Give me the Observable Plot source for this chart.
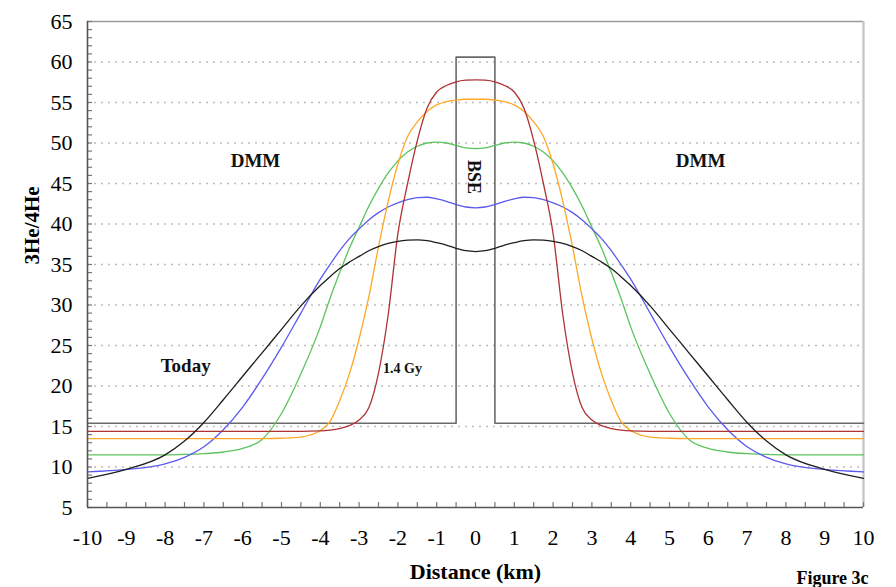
<!DOCTYPE html>
<html><head><meta charset="utf-8">
<script src="https://cdn.jsdelivr.net/npm/d3@7"></script>
<script src="https://cdn.jsdelivr.net/npm/@observablehq/plot@0.6"></script>
<style>html,body{margin:0;padding:0;background:#fff;}</style>
</head><body><div id="chart"></div>
<script>
// Distance (km)
const distance = [-10, -9, -8, -7.5, -7, -6.5, -6, -5.5, -5, -4.5, -4, -3.75, -3.5, -3.25, -3, -2.75, -2.5, -2.25, -2, -1.75, -1.5, -1.25, -1, -0.75, -0.5, -0.25, 0,
  0.25, 0.5, 0.75, 1, 1.25, 1.5, 1.75, 2, 2.25, 2.5, 2.75, 3, 3.25, 3.5, 3.75, 4, 4.5, 5, 5.5, 6, 6.5, 7, 7.5, 8, 9, 10];

// 3He/4He profiles
const today = [8.6, 9.7, 11.5, 13.2, 15.5, 18.3, 21.2, 24.1, 27.0, 29.9, 32.4, 33.5, 34.5, 35.3, 36.0, 36.7, 37.2, 37.6, 37.85, 38.0, 38.05, 37.95, 37.7, 37.4, 37.0, 36.7, 36.6,
  36.7, 37.0, 37.4, 37.7, 37.95, 38.05, 38.0, 37.85, 37.6, 37.2, 36.7, 36.0, 35.3, 34.5, 33.5, 32.4, 29.9, 27.0, 24.1, 21.2, 18.3, 15.5, 13.2, 11.5, 9.7, 8.6];
const blueProfile = [9.4, 9.7, 10.4, 11.2, 12.5, 14.6, 17.4, 20.9, 24.8, 29.0, 33.2, 35.0, 36.7, 38.2, 39.4, 40.5, 41.4, 42.1, 42.6, 43.0, 43.25, 43.3, 43.1, 42.8, 42.4, 42.1, 42.0,
  42.1, 42.4, 42.8, 43.1, 43.3, 43.25, 43.0, 42.6, 42.1, 41.4, 40.5, 39.4, 38.2, 36.7, 35.0, 33.2, 29.0, 24.8, 20.9, 17.4, 14.6, 12.5, 11.2, 10.4, 9.7, 9.4];
const greenProfile = [11.5, 11.5, 11.5, 11.55, 11.65, 11.85, 12.3, 13.4, 16.6, 21.5, 27.3, 30.8, 34.0, 37.0, 39.6, 42.2, 44.4, 46.3, 47.8, 48.9, 49.6, 50.0, 50.1, 50.0, 49.7, 49.4, 49.3,
  49.4, 49.7, 50.0, 50.1, 50.0, 49.6, 48.9, 47.8, 46.3, 44.4, 42.2, 39.6, 37.0, 34.0, 30.8, 27.3, 21.5, 16.6, 13.4, 12.3, 11.85, 11.65, 11.55, 11.5, 11.5, 11.5];
const orangeProfile = [13.5, 13.5, 13.5, 13.5, 13.5, 13.5, 13.5, 13.5, 13.55, 13.7, 14.5, 15.6, 18.2, 21.5, 25.8, 31.0, 37.2, 42.8, 47.4, 50.8, 52.6, 53.9, 54.7, 55.1, 55.3, 55.4, 55.4,
  55.4, 55.3, 55.1, 54.7, 53.9, 52.6, 50.8, 47.4, 42.8, 37.2, 31.0, 25.8, 21.5, 18.2, 15.6, 14.5, 13.7, 13.55, 13.5, 13.5, 13.5, 13.5, 13.5, 13.5, 13.5, 13.5];
const gy14 = [14.4, 14.4, 14.4, 14.4, 14.4, 14.4, 14.4, 14.4, 14.4, 14.4, 14.45, 14.55, 14.75, 15.1, 15.8, 17.3, 21.6, 28.8, 38.8, 45.0, 50.3, 54.3, 56.3, 57.1, 57.55, 57.75, 57.8,
  57.75, 57.55, 57.1, 56.3, 54.3, 50.3, 45.0, 38.8, 28.8, 21.6, 17.3, 15.8, 15.1, 14.75, 14.55, 14.45, 14.4, 14.4, 14.4, 14.4, 14.4, 14.4, 14.4, 14.4, 14.4, 14.4];

// Initial BSE step
const bseX = [-10, -0.5, -0.5, 0.5, 0.5, 10];
const bseY = [15.4, 15.4, 60.6, 60.6, 15.4, 15.4];

// Ticks
const xTicks = d3.range(-10, 11, 1);
const xMinor = d3.range(-10, 10.01, 0.5);
const yTicks = d3.range(5, 66, 5);
const yMinor = d3.range(5, 65.01, 1);
const yGrid = d3.range(10, 61, 5);
const xDomain = [-10, 10];
const yDomain = [5, 65];

// Annotations
const labels = [
  {x: -5.67, y: 47.8, text: "DMM", size: 19, rotate: 0},
  {x: 5.8, y: 47.8, text: "DMM", size: 19, rotate: 0},
  {x: -0.05, y: 45.8, text: "BSE", size: 18, rotate: 90},
  {x: -7.47, y: 22.5, text: "Today", size: 19, rotate: 0},
  {x: -1.88, y: 22.1, text: "1.4 Gy", size: 14, rotate: 0}
];

const W = 896, H = 587, ML = 87, MR = 33, MT = 21, MB = 80;
const frameW = W - ML - MR, frameH = H - MT - MB;

const toRows = (ys) => distance.map((x, i) => ({x, y: ys[i]}));
const bseRows = bseX.map((x, i) => ({x, y: bseY[i]}));

const series = [
  {rows: toRows(greenProfile), color: "#5cc35c"},
  {rows: toRows(blueProfile), color: "#5a5af0"},
  {rows: toRows(orangeProfile), color: "#ffa726"},
  {rows: toRows(gy14), color: "#b03232"},
  {rows: toRows(today), color: "#1e1e1e"}
];

const chart = Plot.plot({
  width: W, height: H,
  marginLeft: ML, marginRight: MR, marginTop: MT, marginBottom: MB,
  style: {fontFamily: "'Liberation Serif', 'Times New Roman', serif", background: "#fff", color: "#000"},
  x: {domain: xDomain},
  y: {domain: yDomain},
  marks: [
    Plot.gridY(yGrid, {stroke: "#bdbdbd", strokeOpacity: 1, strokeWidth: 1.3, strokeDasharray: "2,5"}),
    Plot.ruleY([yDomain[1]], {stroke: "#9a9a9a", strokeWidth: 1.3}),
    Plot.ruleX([xDomain[1]], {stroke: "#c4c4c4", strokeWidth: 2.2}),
    Plot.tickX(xMinor, {x: d => d, insetTop: frameH - 5, stroke: "#777", strokeWidth: 1.2}),
    Plot.tickY(yMinor, {y: d => d, insetRight: frameW - 5, stroke: "#777", strokeWidth: 1.2}),
    Plot.line(bseRows, {x: "x", y: "y", stroke: "#6a6a6a", strokeWidth: 1.6}),
    ...series.map(s => Plot.line(s.rows, {x: "x", y: "y", stroke: s.color, strokeWidth: 1.3, curve: "monotone-x"})),
    Plot.ruleY([yDomain[0]], {stroke: "#555", strokeWidth: 1.6}),
    Plot.ruleX([xDomain[0]], {stroke: "#555", strokeWidth: 1.6}),
    Plot.axisY(yTicks, {tickSize: 0, tickPadding: 15, fontSize: 22, tickFormat: d => `${d}`, label: null}),
    Plot.axisX(xTicks, {tickSize: 0, tickPadding: 22, fontSize: 22, tickFormat: d => `${d}`, label: null}),
    ...labels.map(l => Plot.text([l], {x: "x", y: "y", text: "text", rotate: l.rotate, fontSize: l.size, fontWeight: "bold", fill: "#111"})),
    Plot.text(["3He/4He"], {frameAnchor: "left", dx: -55, rotate: -90, fontSize: 21, fontWeight: "bold", lineAnchor: "middle"}),
    Plot.text(["Distance (km)"], {frameAnchor: "bottom", dy: 64, fontSize: 22, fontWeight: "bold", lineAnchor: "middle"}),
    Plot.text(["Figure 3c"], {frameAnchor: "bottom-right", dx: -31, dy: 71, fontSize: 18, fontWeight: "bold", lineAnchor: "middle", textAnchor: "middle"})
  ]
});
document.getElementById("chart").appendChild(chart);
</script>
</body></html>
